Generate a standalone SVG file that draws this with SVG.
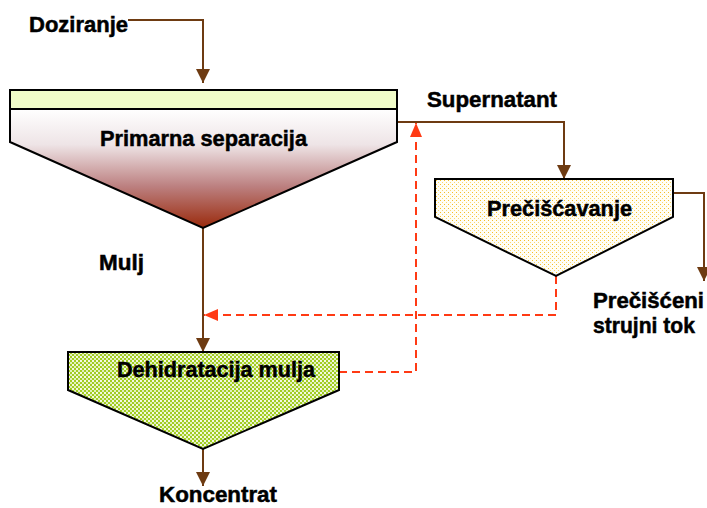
<svg xmlns="http://www.w3.org/2000/svg" width="707" height="508" viewBox="0 0 707 508">
<style>
  text { font-family: "Liberation Sans", Arial, sans-serif; font-weight: bold; font-size: 22px; fill: #000; stroke: #000; stroke-width: 0.5; }
  .shape { stroke: #000; stroke-width: 2; stroke-linejoin: miter; }
  .flow { fill: none; stroke: #6E3B12; stroke-width: 2; }
  .ret { fill: none; stroke: #FF3A14; stroke-width: 2; stroke-dasharray: 8 5; }
</style>
<defs>
  <linearGradient id="sep" x1="0" y1="109" x2="0" y2="228" gradientUnits="userSpaceOnUse">
    <stop offset="0" stop-color="#FFFFFF"/>
    <stop offset="0.3" stop-color="#EEE4E6"/>
    <stop offset="0.65" stop-color="#BC8080"/>
    <stop offset="1" stop-color="#9A2A0C"/>
  </linearGradient>
  <pattern id="yel" width="4" height="4" patternUnits="userSpaceOnUse">
    <rect width="4" height="4" fill="#FFFEF6"/>
    <rect x="0" y="0" width="1" height="1" fill="#F5BE28"/>
    <rect x="2" y="2" width="1" height="1" fill="#FAD870"/>
  </pattern>
  <pattern id="grn" width="4" height="4" patternUnits="userSpaceOnUse">
    <rect width="4" height="4" fill="#A2CC22"/>
    <rect x="0" y="0" width="2" height="2" fill="#F4F9E2"/>
    <rect x="2" y="2" width="2" height="2" fill="#E2F0BE"/>
  </pattern>
  <marker id="ab" viewBox="0 0 14 14" refX="14" refY="7" markerWidth="14" markerHeight="14" markerUnits="userSpaceOnUse" orient="auto">
    <path d="M0,0 L14,7 L0,14 z" fill="#6E3B12"/>
  </marker>
  <marker id="ar" viewBox="0 0 14 12" refX="14" refY="6" markerWidth="14" markerHeight="12" markerUnits="userSpaceOnUse" orient="auto">
    <path d="M0,0 L14,6 L0,12 z" fill="#FF3A14"/>
  </marker>
</defs>

<g id="connectors">
  <path class="flow" d="M128,20 H203 V83" marker-end="url(#ab)"/>
  <path class="flow" d="M397,122 H564 V179" marker-end="url(#ab)"/>
  <path class="flow" d="M673,193 H704 V281" marker-end="url(#ab)"/>
  <path class="flow" d="M203,228 V352" marker-end="url(#ab)"/>
  <path class="flow" d="M203,449 V486" marker-end="url(#ab)"/>
  <path class="ret" d="M556,276 V315 H204" marker-end="url(#ar)"/>
  <path class="ret" d="M339,372 H416 V123" marker-end="url(#ar)"/>
</g>

<g id="primarna-separacija">
  <path class="shape" d="M10,109 H397 V142 L203,228 L10,142 Z" fill="url(#sep)"/>
  <rect class="shape" x="10" y="90" width="387" height="19" fill="#F0FCC8"/>
  <text x="100" y="146" textLength="207" lengthAdjust="spacingAndGlyphs">Primarna separacija</text>
</g>

<g id="preciscavanje">
  <path class="shape" d="M435,179 H673 V217 L556,276 L435,217 Z" fill="url(#yel)"/>
  <text x="487" y="216" textLength="145" lengthAdjust="spacingAndGlyphs">Prečišćavanje</text>
</g>

<g id="dehidratacija">
  <path class="shape" d="M68,352 H339 V390 L203,449 L68,390 Z" fill="url(#grn)"/>
  <text x="117" y="377" textLength="198" lengthAdjust="spacingAndGlyphs">Dehidratacija mulja</text>
</g>

<g id="labels">
  <text x="29" y="32" textLength="99" lengthAdjust="spacingAndGlyphs">Doziranje</text>
  <text x="427" y="107" textLength="130" lengthAdjust="spacingAndGlyphs">Supernatant</text>
  <text x="99" y="270" textLength="45" lengthAdjust="spacingAndGlyphs">Mulj</text>
  <text x="593" y="308" textLength="111" lengthAdjust="spacingAndGlyphs">Prečišćeni</text>
  <text x="593" y="333" textLength="102" lengthAdjust="spacingAndGlyphs">strujni tok</text>
  <text x="159" y="502" textLength="118" lengthAdjust="spacingAndGlyphs">Koncentrat</text>
</g>
</svg>
